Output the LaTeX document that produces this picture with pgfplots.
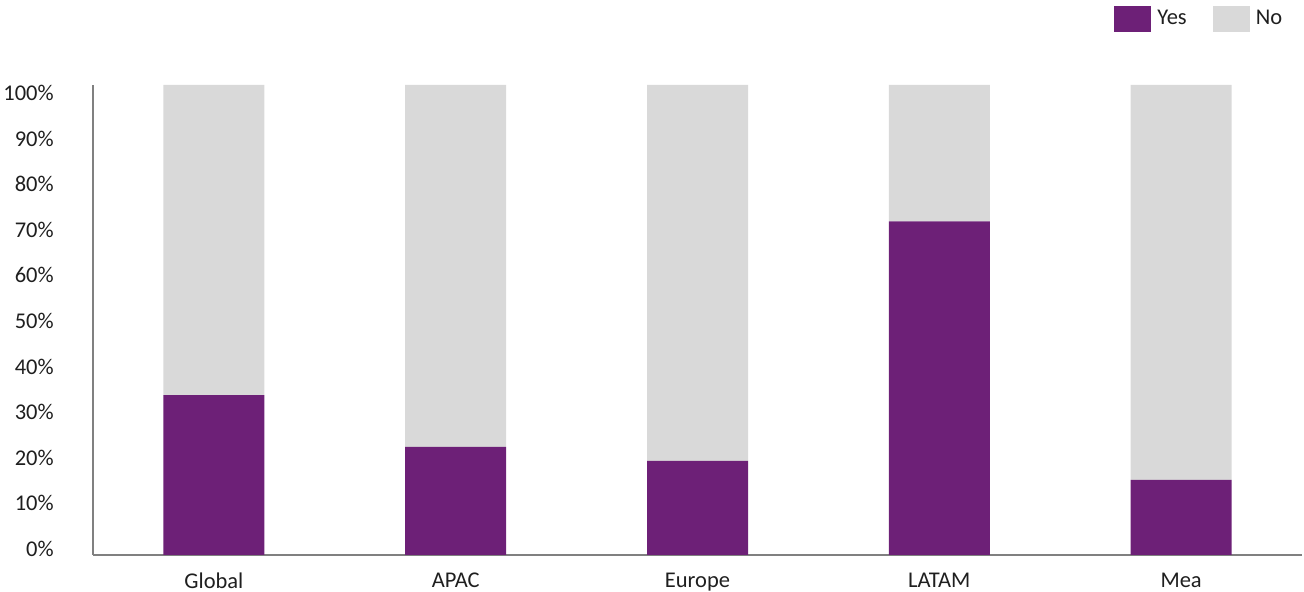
\documentclass[border=0pt]{standalone}
\usepackage{pgfplots}
\pgfplotsset{compat=1.18}
\usepackage{fontspec}
\setmainfont{Carlito}
\definecolor{yescol}{HTML}{6D2077}
\definecolor{nocol}{HTML}{D9D9D9}
\begin{document}
\begin{tikzpicture}
\begin{axis}[
  at={(46.5pt,18.5pt)}, anchor=south west,
  scale only axis, width=604.5pt, height=235pt,
  ybar stacked, bar width=50.5pt,
  xmin=-0.5, xmax=4.5, ymin=0, ymax=100,
  xtick={0,1,2,3,4}, xticklabels={Global,APAC,Europe,LATAM,Mea},
  ytick={1.28,10.98,20.68,30.38,40.09,49.79,59.49,69.19,78.89,88.60,98.30},
  yticklabels={0\%,10\%,20\%,30\%,40\%,50\%,60\%,70\%,80\%,90\%,100\%},
  axis x line=bottom, axis y line=left,
  axis line style={-, draw=black!50, line width=0.75pt},
  tick style={draw=none},
  ticklabel style={font=\fontsize{11.25}{13}\selectfont, text=black!88},
  xticklabel style={yshift=-3.3pt},
  yticklabel style={xshift=-14pt},
  legend style={at={(0.8445,1.14)}, anchor=west, draw=none, fill=none,
    inner sep=0pt, font=\fontsize{11.25}{13}\selectfont, text=black!88,
    /tikz/every odd column/.append style={column sep=1pt},
    /tikz/every even column/.append style={column sep=11pt}},
  legend columns=2,
  legend cell align=left,
  legend image code/.code={\fill[#1] (0pt,-6.5pt) rectangle (18.5pt,6.5pt);},
]
\addplot[fill=yescol, draw=none] coordinates {(0,34) (1,23) (2,20) (3,71) (4,16)};
\addplot[fill=nocol, draw=none] coordinates {(0,66) (1,77) (2,80) (3,29) (4,84)};
\legend{Yes,No}
\end{axis}
\pgfresetboundingbox
\path[use as bounding box] (0,0) rectangle (652pt,296pt);
\end{tikzpicture}
\end{document}
